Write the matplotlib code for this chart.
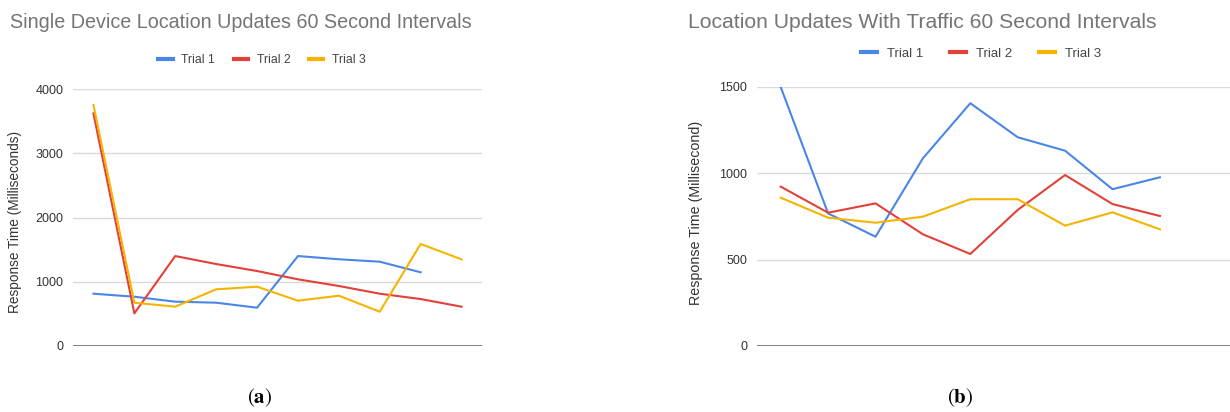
import matplotlib
matplotlib.use("Agg")
import matplotlib.pyplot as plt

plt.rcParams['font.family'] = ['Liberation Sans', 'DejaVu Sans']
plt.rcParams['mathtext.fontset'] = 'stix'

trials = ["Trial 1", "Trial 2", "Trial 3"]
colors = ['#4a86e8', '#e3403a', '#f4b400']

# (a) single device, 10 update slots (trial 1 has 9 readings)
single_t1 = [814, 767, 690, 674, 596, 1400, 1350, 1312, 1147]
single_t2 = [3620, 508, 1400, 1276, 1167, 1038, 934, 814, 731, 612]
single_t3 = [3750, 674, 612, 882, 923, 705, 783, 534, 1588, 1349]

# (b) with traffic, 9 readings per trial
traffic_t1 = [1500, 768, 633, 1087, 1406, 1209, 1131, 908, 977]
traffic_t2 = [923, 772, 826, 647, 533, 788, 990, 822, 753]
traffic_t3 = [859, 743, 714, 749, 850, 850, 697, 774, 676]

W, H = 1230, 412
fig = plt.figure(figsize=(W / 100, H / 100), dpi=100)


def px_axes(x0, x1, ytop, ybot):
    return fig.add_axes([x0 / W, (H - ybot) / H, (x1 - x0) / W, (ybot - ytop) / H])


def style(ax, ymax, step):
    ax.set_xlim(-0.5, 9.5)
    ax.set_ylim(0, ymax)
    ax.set_yticks(range(0, ymax + 1, step))
    ax.set_xticks([])
    for s in ax.spines.values():
        s.set_visible(False)
    ax.grid(axis='y', color='#dadada', linewidth=1)
    ax.axhline(0, color='#6b6b6b', linewidth=1.2, zorder=1)
    ax.tick_params(axis='y', length=0, labelsize=9, pad=7, labelcolor='#333333')
    ax.set_axisbelow(True)
    ax.patch.set_alpha(0)


ax1 = px_axes(73, 482, 89, 346)
for vals, c, lab in zip([single_t1, single_t2, single_t3], colors, trials):
    ax1.plot(range(len(vals)), vals, color=c, linewidth=1.5, label=lab)
style(ax1, 4000, 1000)

ax2 = px_axes(757, 1231, 87, 346)
for vals, c, lab in zip([traffic_t1, traffic_t2, traffic_t3], colors, trials):
    ax2.plot(range(len(vals)), vals, color=c, linewidth=1.5, label=lab)
style(ax2, 1500, 500)

fig.text(15 / W, 1 - 222 / H, "Response Time (Milliseconds)", rotation=90,
         fontsize=9.8, color='#333333', ha='center', va='center')
fig.text(696 / W, 1 - 213 / H, "Response Time (Millisecond)", rotation=90,
         fontsize=10.3, color='#333333', ha='center', va='center')

fig.text(10 / W, 1 - 22 / H, "Single Device Location Updates 60 Second Intervals",
         fontsize=14.2, color='#757575', va='center', ha='left')
fig.text(688 / W, 1 - 22 / H, "Location Updates With Traffic 60 Second Intervals",
         fontsize=15.2, color='#757575', va='center', ha='left')

l1 = ax1.legend(bbox_to_anchor=(262 / W, 1 - 60 / H), bbox_transform=fig.transFigure,
                ncol=3, frameon=False, fontsize=8.8, handlelength=1.2, handletextpad=0.7,
                columnspacing=1.5, loc='center')
l2 = ax2.legend(bbox_to_anchor=(981 / W, 1 - 54 / H), bbox_transform=fig.transFigure,
                ncol=3, frameon=False, fontsize=9.5, handlelength=1.2, handletextpad=0.8,
                columnspacing=2.0, loc='center')
for leg in (l1, l2):
    for h in leg.get_lines():
        h.set_linewidth(3)
    for t in leg.get_texts():
        t.set_color('#444444')

fig.text(260 / W, 1 - 398 / H, r'$(\mathbf{a})$', fontsize=15, ha='center', va='center')
fig.text(960 / W, 1 - 398 / H, r'$(\mathbf{b})$', fontsize=15, ha='center', va='center')

fig.savefig("out.png", dpi=100)
